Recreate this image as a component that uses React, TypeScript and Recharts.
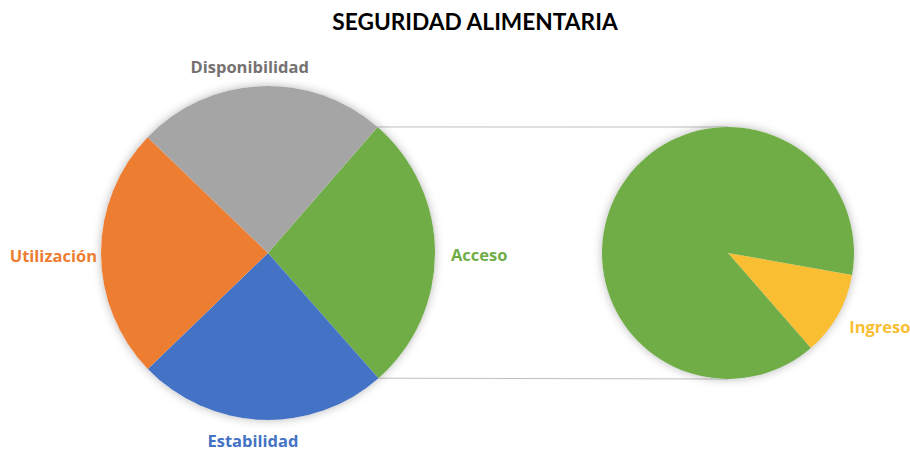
import React from "react";
import { PieChart, Pie, Cell } from "recharts";

const mainNames = ["Acceso", "Estabilidad", "Utilización", "Disponibilidad"];
const mainValues = [27.1, 24.3, 24.4, 24.2];
const subNames = ["Ingreso", "Otros"];
const subValues = [10.8, 89.2];
const title = "SEGURIDAD ALIMENTARIA";

const mainColors = ["#70AD47", "#4472C4", "#ED7D31", "#A5A5A5"];
const mainLabelColors = ["#70AD47", "#4472C4", "#ED7D31", "#767171"];
const subColors = ["#F9BE32", "#70AD47"];
const subLabelColors = ["#F9BE32", null];

const W = 910;
const H = 453;
const CX1 = 268, CY1 = 253, R1 = 167;
const CX2 = 728, CY2 = 253, R2 = 126;
const START1 = 49;
const START2 = -10;
const TITLE_FONT = "Lato, 'Open Sans', sans-serif";
const FONT = "'Open Sans', Lato, sans-serif";

const mainData = mainNames.map((n, i) => ({ name: n, value: mainValues[i] }));
const subData = subNames.map((n, i) => ({ name: n, value: subValues[i] }));

type Lay = { off: number; dx: number; dy: number; anchor: "start" | "middle" | "end" } | null;
const mainLayout: Lay[] = [
  { off: 16, dx: 0, dy: 2, anchor: "start" },
  { off: 21, dx: -7.5, dy: 0, anchor: "middle" },
  { off: 4, dx: 0, dy: 2, anchor: "end" },
  { off: 19, dx: -10, dy: -1, anchor: "middle" },
];
const subLayout: Lay[] = [{ off: 12, dx: 1, dy: 6, anchor: "start" }, null];

const makeLabel = (layout: Lay[], colors: (string | null)[]) => (props: any) => {
  const { cx, cy, midAngle, outerRadius, index, name } = props;
  const l = layout[index];
  if (!l || !colors[index]) return null;
  const rad = Math.PI / 180;
  const r = outerRadius + l.off;
  const x = cx + r * Math.cos(-midAngle * rad) + l.dx;
  const y = cy + r * Math.sin(-midAngle * rad) + l.dy;
  return (
    <text
      x={x}
      y={y}
      textAnchor={l.anchor}
      dominantBaseline="central"
      fill={colors[index] as string}
      fontFamily={FONT}
      fontWeight={700}
      fontSize={16.5}
    >
      {name}
    </text>
  );
};

export default function App() {
  const total = mainValues.reduce((a, b) => a + b, 0);
  const a1 = START1 * Math.PI / 180;
  const a2 = (START1 - (mainValues[0] / total) * 360) * Math.PI / 180;
  const p1 = { x: CX1 + R1 * Math.cos(a1), y: CY1 - R1 * Math.sin(a1) };
  const p2 = { x: CX1 + R1 * Math.cos(a2), y: CY1 - R1 * Math.sin(a2) };
  return (
    <div style={{ position: "absolute", left: 0, top: 0, width: W, height: H, background: "#fff" }}>
      <style>{`.shadow-pie path { filter: drop-shadow(0px 0px 5px rgba(0,0,0,0.28)); }`}</style>
      <svg width={W} height={H} style={{ position: "absolute", left: 0, top: 0 }}>
        <line x1={p1.x} y1={p1.y} x2={CX2} y2={CY2 - R2} stroke="#BFBFBF" strokeWidth={1} />
        <line x1={p2.x} y1={p2.y} x2={CX2} y2={CY2 + R2} stroke="#BFBFBF" strokeWidth={1} />
        <text x={475} y={21} textAnchor="middle" dominantBaseline="central" fontFamily={TITLE_FONT} fontWeight={700} fontSize={22.7} fill="#000">
          {title}
        </text>
      </svg>
      <div style={{ position: "absolute", left: 0, top: 0 }}>
        <PieChart width={W} height={H} margin={{ top: 0, right: 0, bottom: 0, left: 0 }}>
          <Pie
            data={[{ name: "s", value: 1 }]}
            dataKey="value"
            cx={CX1}
            cy={CY1}
            outerRadius={R1}
            fill="#fff"
            stroke="none"
            className="shadow-pie"
            isAnimationActive={false}
          />
          <Pie
            data={[{ name: "s2", value: 1 }]}
            dataKey="value"
            cx={CX2}
            cy={CY2}
            outerRadius={R2}
            fill="#fff"
            stroke="none"
            className="shadow-pie"
            isAnimationActive={false}
          />
          <Pie
            data={mainData}
            dataKey="value"
            nameKey="name"
            cx={CX1}
            cy={CY1}
            outerRadius={R1}
            startAngle={START1}
            endAngle={START1 - 360}
            stroke="none"
            labelLine={false}
            label={makeLabel(mainLayout, mainLabelColors)}
            isAnimationActive={false}
          >
            {mainData.map((d, i) => (
              <Cell key={d.name} fill={mainColors[i]} />
            ))}
          </Pie>
          <Pie
            data={subData}
            dataKey="value"
            nameKey="name"
            cx={CX2}
            cy={CY2}
            outerRadius={R2}
            startAngle={START2}
            endAngle={START2 - 360}
            stroke="none"
            labelLine={false}
            label={makeLabel(subLayout, subLabelColors)}
            isAnimationActive={false}
          >
            {subData.map((d, i) => (
              <Cell key={d.name} fill={subColors[i]} />
            ))}
          </Pie>
        </PieChart>
      </div>
    </div>
  );
}
